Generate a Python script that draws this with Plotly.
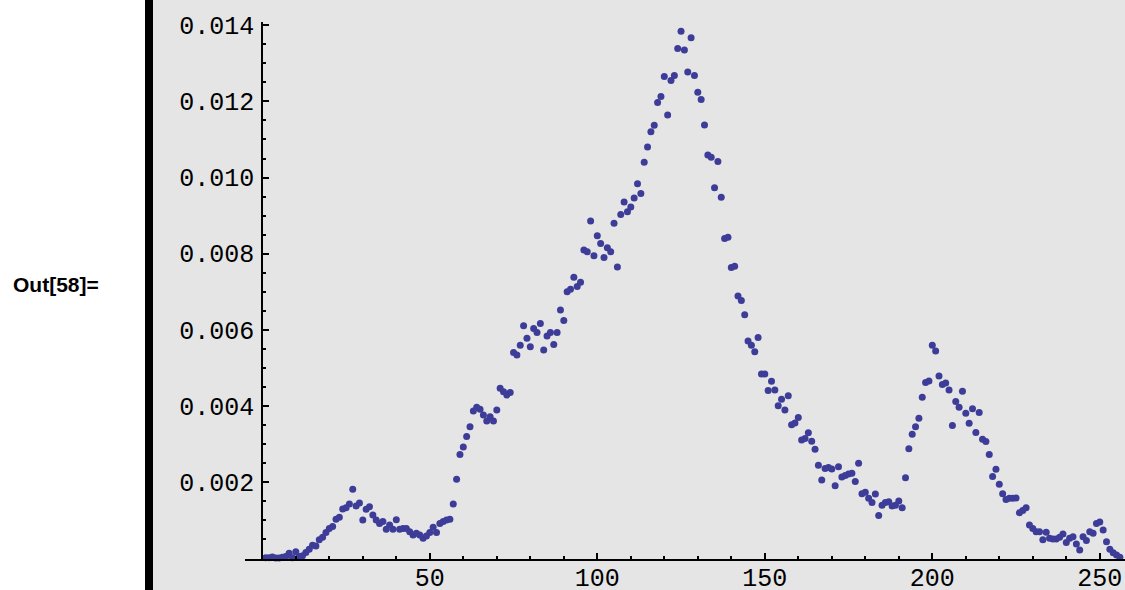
import plotly.graph_objects as go

# ---- data ----
x_index = list(range(1, 257))
values = [
    0.00002, 0.00002, 0.00004, 0.00001, 0.00001, 0.00003, 0.00005, 0.00014, 0.00002, 0.00018,
    0.00005, 0.00007, 0.00016, 0.00024, 0.00035, 0.00033, 0.00049, 0.00056, 0.00068, 0.00079,
    0.00084, 0.00103, 0.00108, 0.00130, 0.00133, 0.00143, 0.00182, 0.00138, 0.00146, 0.00101,
    0.00129, 0.00136, 0.00114, 0.00101, 0.00092, 0.00097, 0.00077, 0.00088, 0.00077, 0.00102,
    0.00077, 0.00079, 0.00079, 0.00070, 0.00062, 0.00066, 0.00062, 0.00053, 0.00059, 0.00068,
    0.00082, 0.00068, 0.00092, 0.00097, 0.00101, 0.00103, 0.00143, 0.00208, 0.00273, 0.00293,
    0.00320, 0.00346, 0.00387, 0.00397, 0.00392, 0.00377, 0.00361, 0.00372, 0.00361, 0.00390,
    0.00447, 0.00438, 0.00429, 0.00436, 0.00541, 0.00534, 0.00560, 0.00611, 0.00578, 0.00556,
    0.00604, 0.00593, 0.00617, 0.00547, 0.00584, 0.00593, 0.00562, 0.00593, 0.00652, 0.00625,
    0.00700, 0.00707, 0.00738, 0.00714, 0.00725, 0.00810, 0.00805, 0.00886, 0.00795, 0.00847,
    0.00827, 0.00790, 0.00816, 0.00805, 0.00880, 0.00765, 0.00903, 0.00936, 0.00910, 0.00923,
    0.00946, 0.00984, 0.00958, 0.01040, 0.01080, 0.01120, 0.01137, 0.01197, 0.01213, 0.01265,
    0.01164, 0.01255, 0.01268, 0.01339, 0.01384, 0.01335, 0.01277, 0.01367, 0.01268, 0.01224,
    0.01205, 0.01138, 0.01059, 0.01053, 0.00973, 0.01042, 0.00948, 0.00840, 0.00843, 0.00764,
    0.00767, 0.00689, 0.00677, 0.00640, 0.00571, 0.00560, 0.00543, 0.00580, 0.00484, 0.00484,
    0.00441, 0.00465, 0.00442, 0.00401, 0.00418, 0.00390, 0.00427, 0.00351, 0.00356, 0.00370,
    0.00311, 0.00315, 0.00330, 0.00308, 0.00287, 0.00245, 0.00206, 0.00236, 0.00239, 0.00235,
    0.00191, 0.00241, 0.00214, 0.00218, 0.00222, 0.00224, 0.00202, 0.00250, 0.00170, 0.00174,
    0.00158, 0.00147, 0.00169, 0.00113, 0.00140, 0.00147, 0.00149, 0.00138, 0.00140, 0.00151,
    0.00133, 0.00212, 0.00288, 0.00326, 0.00346, 0.00368, 0.00423, 0.00462, 0.00466, 0.00560,
    0.00545, 0.00479, 0.00457, 0.00461, 0.00442, 0.00349, 0.00412, 0.00397, 0.00439, 0.00381,
    0.00355, 0.00393, 0.00331, 0.00383, 0.00313, 0.00307, 0.00273, 0.00215, 0.00234, 0.00195,
    0.00170, 0.00155, 0.00158, 0.00158, 0.00159, 0.00120, 0.00126, 0.00133, 0.00088, 0.00079,
    0.00070, 0.00070, 0.00049, 0.00069, 0.00053, 0.00051, 0.00051, 0.00056, 0.00064, 0.00042,
    0.00053, 0.00057, 0.00038, 0.00022, 0.00057, 0.00047, 0.00070, 0.00066, 0.00092, 0.00096,
    0.00075, 0.00044, 0.00024, 0.00015, 0.00009, 0.00003,
]
x_tick_vals = [50, 100, 150, 200, 250]
x_tick_text = ["50", "100", "150", "200", "250"]
y_tick_vals = [0.002, 0.004, 0.006, 0.008, 0.010, 0.012, 0.014]
y_tick_text = ["0.002", "0.004", "0.006", "0.008", "0.010", "0.012", "0.014"]
out_label = "Out[58]="

W, H = 1125, 590
POINT_COLOR = "rgb(61,61,153)"
BG_GRAY = "#e5e5e5"
MONO = "Liberation Mono, Courier New, monospace"

fig = go.Figure()
fig.add_trace(go.Scatter(
    x=x_index, y=values, mode="markers",
    marker=dict(size=7, color=POINT_COLOR, line=dict(width=0)),
    cliponaxis=False, hoverinfo="x+y", showlegend=False,
))

# pixel geometry of the plot
px_left, px_right = 245.0, 1125.0
px_x0 = 262.3          # pixel of x = 0
px_per_x = 3.35
py_bottom, py_top = 558.5, 21.7
y_per_px = 2.625e-5

x_range = [(px_left - px_x0) / px_per_x, (px_right - px_x0) / px_per_x]
y_range = [0, (py_bottom - py_top) * y_per_px]

fig.update_layout(
    width=W, height=H,
    margin=dict(l=0, r=0, t=0, b=0),
    paper_bgcolor="white", plot_bgcolor="rgba(0,0,0,0)",
    showlegend=False,
    xaxis=dict(
        domain=[px_left / W, px_right / W],
        range=x_range, autorange=False,
        showgrid=False, zeroline=False,
        showline=True, linecolor="black", linewidth=2,
        ticks="inside", ticklen=6, tickwidth=2, tickcolor="black",
        tickvals=x_tick_vals, ticktext=x_tick_text,
        minor=dict(dtick=10, tick0=0, ticks="inside", ticklen=3, tickwidth=2,
                   tickcolor="black", showgrid=False),
        tickfont=dict(family=MONO, size=25, color="black"),
        ticklabelstandoff=-5,
        automargin=False,
    ),
    yaxis=dict(
        domain=[(H - py_bottom) / H, (H - py_top) / H],
        range=y_range, autorange=False,
        anchor="free", position=px_x0 / W,
        showgrid=False, zeroline=False,
        showline=True, linecolor="black", linewidth=2,
        ticks="inside", ticklen=6, tickwidth=2, tickcolor="black",
        tickvals=y_tick_vals, ticktext=y_tick_text,
        minor=dict(dtick=0.0005, tick0=0, ticks="inside", ticklen=3, tickwidth=2,
                   tickcolor="black", showgrid=False),
        tickfont=dict(family=MONO, size=25, color="black"),
        ticklabelstandoff=2,
        automargin=False,
    ),
    shapes=[
        dict(type="rect", xref="paper", yref="paper", x0=153 / W, x1=1, y0=0, y1=1,
             fillcolor=BG_GRAY, line=dict(width=0), layer="below"),
        dict(type="rect", xref="paper", yref="paper", x0=145 / W, x1=153 / W, y0=0, y1=1,
             fillcolor="black", line=dict(width=0), layer="below"),
    ],
    annotations=[
        dict(text="<b>" + out_label + "</b>", xref="paper", yref="paper",
             x=11 / W, y=(H - 284) / H, xanchor="left", yanchor="middle",
             showarrow=False,
             font=dict(family="Liberation Sans, Arial, sans-serif", size=21, color="black")),
    ],
)

fig.write_html("out.html")
